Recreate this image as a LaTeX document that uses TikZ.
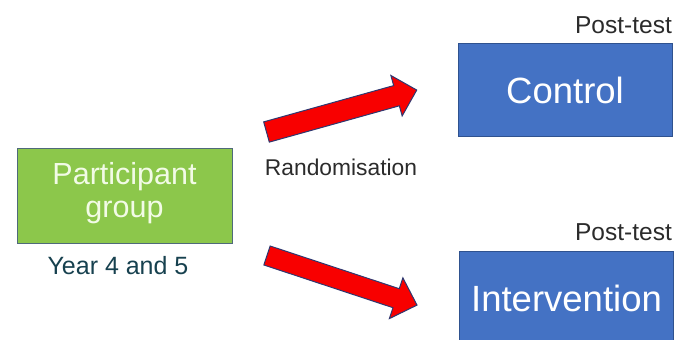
\documentclass[tikz,border=0pt]{standalone}
\usepackage{fontspec}
\setmainfont{Liberation Sans}
\begin{document}
\begin{tikzpicture}[x=1pt,y=-1pt,
  greenbox/.style={draw=gborder,line width=1pt,fill=gfill,inner sep=0pt,
    minimum width=215pt,minimum height=95pt},
  greentext/.style={text=gtext,inner sep=0pt,align=center,font=\fontsize{30.5}{33}\selectfont},
  bluebox/.style={draw=bborder,line width=1pt,fill=bfill,text=white,inner sep=0pt,
    minimum width=214pt,minimum height=93pt,font=\fontsize{36.5}{40}\selectfont},
  lbl/.style={inner sep=0pt,text=lblgray,font=\fontsize{24.5}{28}\selectfont},
  blockarrow/.style={draw=aborder,line width=1pt,fill=afill,line join=miter}
]
\definecolor{gfill}{HTML}{8CC74B}
\definecolor{gborder}{HTML}{4F6A7A}
\definecolor{gtext}{HTML}{F2FBE6}
\definecolor{bfill}{HTML}{4472C4}
\definecolor{bborder}{HTML}{2F528F}
\definecolor{afill}{HTML}{F80000}
\definecolor{aborder}{HTML}{2E3870}
\definecolor{lblgray}{HTML}{2B2B2B}
\definecolor{teal}{HTML}{17414F}
\useasboundingbox (0,0) rectangle (675,340);

\node[greenbox] (pg) at (124.5,195.5) {};
\node[greentext] (pgt) at (124.5,193.5) {Participant\\group};
\node[inner sep=0pt,text=teal,font=\fontsize{25}{29}\selectfont] (yr) at (118,266) {Year 4 and 5};

\node[bluebox] (ctrl) at (565,90) {Control};
\node[bluebox] (int) at (566.5,298) {Intervention};

\node[lbl,anchor=east] (pt1) at (672,25) {Post-test};
\node[lbl,anchor=east] (pt2) at (672,232) {Post-test};
\node[lbl,font=\fontsize{22.8}{26}\selectfont] (rand) at (341,167) {Randomisation};

% upper block arrow
\begin{scope}[shift={(266.5,132)},rotate=15.6]
  \draw[blockarrow] (0,-10.5) -- (135,-10.5) -- (135,-21) -- (156,0) -- (135,21) -- (135,10.5) -- (0,10.5) -- cycle;
\end{scope}
% lower block arrow
\begin{scope}[shift={(267,255.5)},rotate=-18.3]
  \draw[blockarrow] (0,-10) -- (136,-10) -- (136,-21.5) -- (158,0) -- (136,21.5) -- (136,10) -- (0,10) -- cycle;
\end{scope}
\end{tikzpicture}
\end{document}
